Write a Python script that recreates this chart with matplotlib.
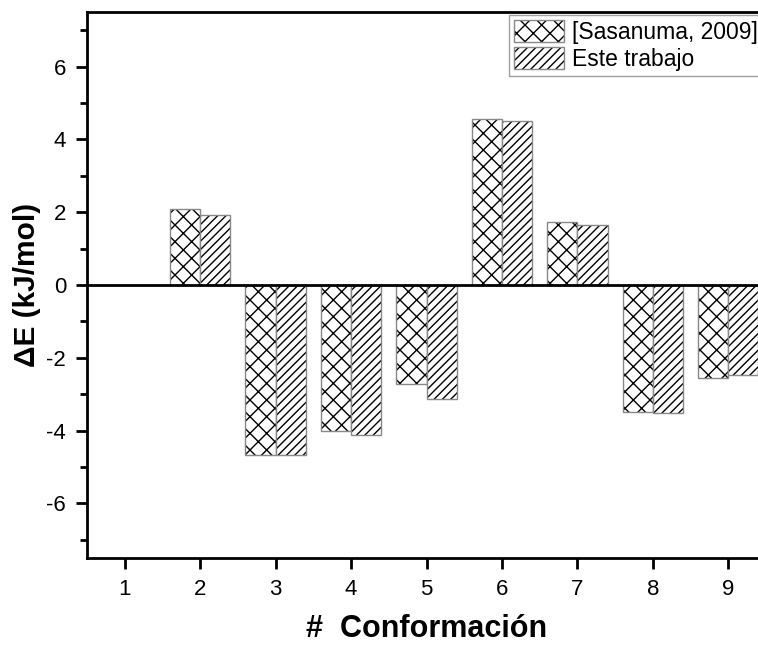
import numpy as np
import matplotlib.pyplot as plt
from matplotlib.ticker import MultipleLocator

plt.rcParams['font.family'] = ['Liberation Sans', 'DejaVu Sans']
plt.rcParams['hatch.linewidth'] = 1.0
plt.rcParams['axes.unicode_minus'] = False

# Datos
conformaciones = [1, 2, 3, 4, 5, 6, 7, 8, 9]
sasanuma = [0.0, 2.08, -4.68, -4.00, -2.72, 4.55, 1.72, -3.50, -2.55]
este_trabajo = [0.0, 1.93, -4.68, -4.11, -3.12, 4.50, 1.65, -3.52, -2.48]

fig = plt.figure(figsize=(7.58, 6.45), dpi=100)
ax = fig.add_axes([0.1148, 0.1349, 0.8958, 0.8465])

x = np.array(conformaciones)
w = 0.4
handles = []
for off, vals, hatch in [(-w / 2, sasanuma, 'xx'), (w / 2, este_trabajo, '////')]:
    # relleno con trama negra, borde gris encima
    b1 = ax.bar(x + off, vals, w, color='white', edgecolor='black', linewidth=0, hatch=hatch)
    b2 = ax.bar(x + off, vals, w, fill=False, edgecolor='#888888', linewidth=1)
    handles.append((b1[0], b2[0]))

ax.axhline(0, color='black', linewidth=2)

ax.set_xlim(0.5, 9.5)
ax.set_ylim(-7.5, 7.5)
ax.set_xticks(conformaciones)
ax.yaxis.set_major_locator(MultipleLocator(2))
ax.yaxis.set_minor_locator(MultipleLocator(1))
ax.tick_params(axis='both', which='major', direction='out', length=8, width=2,
               labelsize=16, pad=7)
ax.tick_params(axis='y', which='minor', direction='out', length=5, width=2)
for s in ax.spines.values():
    s.set_linewidth(2)

ax.set_xlabel('#  Conformación', fontsize=22, fontweight='bold', labelpad=10)
ax.set_ylabel('ΔE (kJ/mol)', fontsize=21.5, fontweight='bold', labelpad=4)

leg = ax.legend(handles, ['[Sasanuma, 2009]', 'Este trabajo'], loc='upper right',
                fontsize=16.5, fancybox=False, edgecolor='#888888',
                handlelength=2.2, handleheight=1.1, handletextpad=0.35,
                borderpad=0.2, labelspacing=0.15, borderaxespad=0.15)
leg.get_frame().set_linewidth(1)

fig.savefig('out.png', dpi=100)
